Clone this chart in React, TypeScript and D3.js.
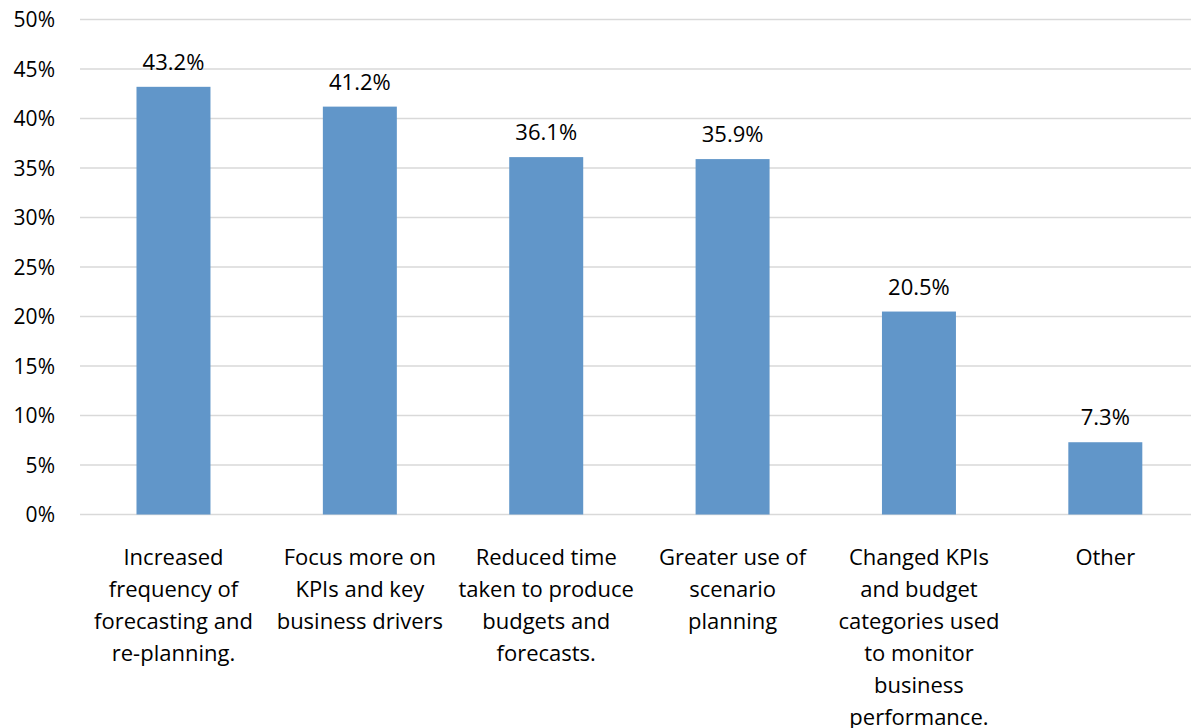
import React from "react";
import * as d3 from "d3";

const categories: string[][] = [
  ["Increased", "frequency of", "forecasting and", "re-planning."],
  ["Focus more on", "KPIs and key", "business drivers"],
  ["Reduced time", "taken to produce", "budgets and", "forecasts."],
  ["Greater use of", "scenario", "planning"],
  ["Changed KPIs", "and budget", "categories used", "to monitor", "business", "performance."],
  ["Other"],
];
const values: number[] = [43.2, 41.2, 36.1, 35.9, 20.5, 7.3];
const yTicks: number[] = [0, 5, 10, 15, 20, 25, 30, 35, 40, 45, 50];

const W = 1191;
const H = 728;
const FONT = "'Open Sans', 'Liberation Sans', sans-serif";

export default function App() {
  const ids = categories.map((_, i) => String(i));
  const x = d3.scaleBand<string>().domain(ids).range([80.3, 1198.5]).paddingInner(0.603).paddingOuter(0.3015);
  const y = d3.scaleLinear().domain([0, 50]).range([514.5, 19.5]);

  return (
    <svg
      width={W}
      height={H}
      style={{ position: "absolute", left: 0, top: 0, background: "#fff" }}
      fontFamily={FONT}
    >
      {yTicks.map((t) => (
        <g key={t}>
          <line x1={80} x2={W} y1={y(t)} y2={y(t)} stroke="#d9d9d9" strokeWidth={1.3} />
          <text x={55} y={y(t)} dy="0.36em" textAnchor="end" fontSize={21} fill="#000">
            {t}%
          </text>
        </g>
      ))}
      {values.map((v, i) => {
        const bx = x(String(i))!;
        const bw = x.bandwidth();
        return (
          <g key={i}>
            <rect x={bx} y={y(v)} width={bw} height={y(0) - y(v)} fill="#6196c9" />
            <text x={bx + bw / 2} y={y(v) - 17} textAnchor="middle" fontSize={22} fill="#000">
              {v.toFixed(1)}%
            </text>
          </g>
        );
      })}
      {categories.map((lines, i) => {
        const cx = x(String(i))! + x.bandwidth() / 2;
        return (
          <text key={i} textAnchor="middle" fontSize={22} fill="#000">
            {lines.map((l, j) => (
              <tspan key={j} x={cx} y={565 + j * 32}>
                {l}
              </tspan>
            ))}
          </text>
        );
      })}
    </svg>
  );
}
